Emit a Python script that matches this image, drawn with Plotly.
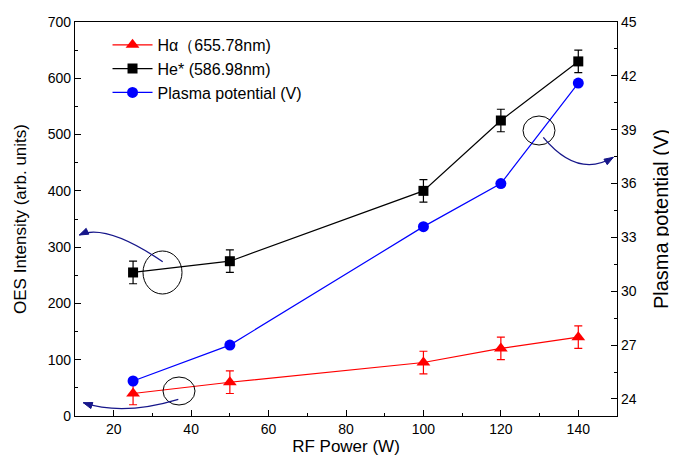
import plotly.graph_objects as go
import math

# ---- data ----
rf_power = [25, 50, 100, 120, 140]
h_alpha = [40, 60, 95, 120, 140]
h_alpha_err = [20, 20, 20, 20, 20]
he_star = [255, 275, 400, 525, 630]
he_star_err = [20, 20, 20, 20, 20]
plasma_potential = [25.0, 27.0, 33.6, 36.0, 41.6]

# ---- geometry (screen pixels; page body has an 8px margin) ----
OFF = 8
W, H = 677 - OFF, 467 - OFF
L, R, T, B = 75, 617, 22, 416
XR = [10, 150]
YR = [0, 700]
Y2R = [23.05, 45]

def dx(px):
    return XR[0] + (px - L) / (R - L) * (XR[1] - XR[0])

def dy(py):
    return YR[0] + (B - py) / (B - T) * (YR[1] - YR[0])

fig = go.Figure()

fig.add_trace(go.Scatter(
    x=rf_power, y=h_alpha, name="Hα（655.78nm)", mode="lines+markers",
    line=dict(color="#ff0000", width=1.2),
    marker=dict(symbol="triangle-up", size=12, color="#ff0000"),
    error_y=dict(type="data", array=h_alpha_err, color="#ff0000", thickness=1.2, width=4),
))
fig.add_trace(go.Scatter(
    x=rf_power, y=he_star, name="He* (586.98nm)", mode="lines+markers",
    line=dict(color="#000000", width=1.2),
    marker=dict(symbol="square", size=10, color="#000000"),
    error_y=dict(type="data", array=he_star_err, color="#000000", thickness=1.2, width=4),
))
fig.add_trace(go.Scatter(
    x=rf_power, y=plasma_potential, name="Plasma potential (V)", mode="lines+markers",
    yaxis="y2",
    line=dict(color="#0000ff", width=1.2),
    marker=dict(symbol="circle", size=11, color="#0000ff"),
))

shapes = []
# ellipses (pixel boxes)
for (x0, y0, x1, y1) in [(143, 251, 182, 294), (163, 377, 195, 405), (523, 116, 555, 145)]:
    shapes.append(dict(type="circle", xref="x", yref="y",
                       x0=dx(x0), x1=dx(x1), y0=dy(y1), y1=dy(y0),
                       line=dict(color="black", width=1)))

arrow_col = "#16168a"
curves = [
    ((162.7, 261.7), (105.7, 223.0), (79.3, 235.0)),
    ((178.3, 399.3), (123.2, 416.0), (83.3, 402.7)),
    ((543.3, 137.3), (577.7, 178.7), (613.3, 157.3)),
]
for p0, c, p2 in curves:
    path = "M %f,%f Q %f,%f %f,%f" % (dx(p0[0]), dy(p0[1]), dx(c[0]), dy(c[1]), dx(p2[0]), dy(p2[1]))
    shapes.append(dict(type="path", xref="x", yref="y", path=path,
                       line=dict(color=arrow_col, width=1.3)))
    ddx, ddy = p2[0] - c[0], p2[1] - c[1]
    n = math.hypot(ddx, ddy)
    ux, uy = ddx / n, ddy / n
    nx, ny = -uy, ux
    hl, hw = 9, 3.2
    bx, by = p2[0] - hl * ux, p2[1] - hl * uy
    pts = [(p2[0], p2[1]), (bx + hw * nx, by + hw * ny), (bx - hw * nx, by - hw * ny)]
    hp = "M " + " L ".join("%f,%f" % (dx(a), dy(b)) for a, b in pts) + " Z"
    shapes.append(dict(type="path", xref="x", yref="y", path=hp,
                       fillcolor=arrow_col, line=dict(color=arrow_col, width=1)))

font_family = "Liberation Sans, Arial, sans-serif"

fig.update_layout(
    width=W, height=H,
    margin=dict(l=L - OFF, r=677 - R, t=T - OFF, b=467 - B, autoexpand=False),
    paper_bgcolor="white", plot_bgcolor="white",
    font=dict(family=font_family, size=14, color="black"),
    showlegend=True,
    legend=dict(x=0.06, y=0.985, xanchor="left", yanchor="top",
                bgcolor="rgba(0,0,0,0)", font=dict(size=16, family=font_family),
                tracegroupgap=0, itemwidth=40),
    shapes=shapes,
    xaxis=dict(range=XR, tickvals=[20, 40, 60, 80, 100, 120, 140],
               ticks="inside", ticklen=6, tickwidth=1, tickcolor="black",
               minor=dict(tickvals=[30, 50, 70, 90, 110, 130], ticks="inside", ticklen=3, tickcolor="black"),
               showline=True, linecolor="black", linewidth=1.2, mirror=True,
               showgrid=False, zeroline=False, automargin=False,
               title=dict(text="RF Power (W)", font=dict(size=17), standoff=4),
               tickfont=dict(size=14)),
    yaxis=dict(range=YR, tickvals=[0, 100, 200, 300, 400, 500, 600, 700],
               ticks="inside", ticklen=6, tickwidth=1, tickcolor="black",
               minor=dict(tickvals=[50, 150, 250, 350, 450, 550, 650], ticks="inside", ticklen=3, tickcolor="black"),
               showline=True, linecolor="black", linewidth=1.2,
               showgrid=False, zeroline=False, automargin=False,
               title=dict(text="OES Intensity (arb. units)", font=dict(size=17), standoff=16),
               tickfont=dict(size=14)),
    yaxis2=dict(range=Y2R, overlaying="y", side="right",
                tickvals=[24, 27, 30, 33, 36, 39, 42, 45],
                ticks="inside", ticklen=6, tickwidth=1, tickcolor="black",
                minor=dict(tickvals=[25.5, 28.5, 31.5, 34.5, 37.5, 40.5, 43.5], ticks="inside", ticklen=3, tickcolor="black"),
                showline=True, linecolor="black", linewidth=1.2,
                showgrid=False, zeroline=False, automargin=False,
                title=dict(text="Plasma potential (V)", font=dict(size=20), standoff=18),
                tickfont=dict(size=14)),
)

fig.write_html("out.html")
